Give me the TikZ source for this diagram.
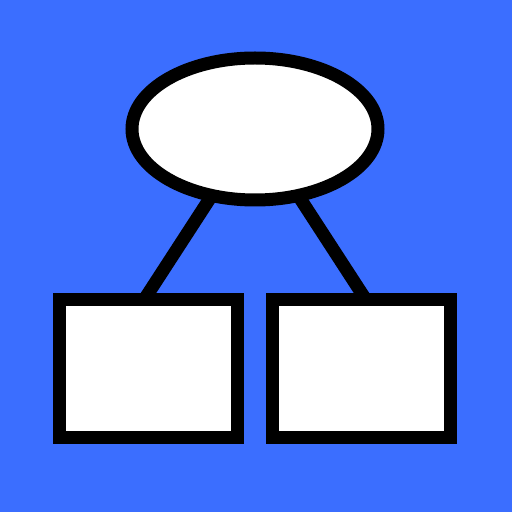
\documentclass[tikz,border=0pt]{standalone}
\usetikzlibrary{shapes.geometric}
\definecolor{bgblue}{RGB}{59,110,255}
\begin{document}
\begin{tikzpicture}[
    line width=0.26cm,
    rootnode/.style={ellipse, draw=black, fill=white, inner sep=0pt,
        minimum width=4.92cm, minimum height=2.84cm},
    leafbox/.style={rectangle, draw=black, fill=white, inner sep=0pt,
        minimum width=3.56cm, minimum height=2.76cm},
    level 1/.style={sibling distance=4.26cm, level distance=4.79cm},
    edge from parent/.style={draw, shorten <=-0.1cm, shorten >=-0.12cm},
    edge from parent path={(\tikzparentnode) -- (\tikzchildnode.north)}
]
\fill[bgblue] (0,0) rectangle (10.24,10.24); % background
\node[rootnode] (root) at (5.1,7.66) {} % root
    child { node[leafbox] (left) {} }
    child { node[leafbox] (right) {} };
\end{tikzpicture}
\end{document}
